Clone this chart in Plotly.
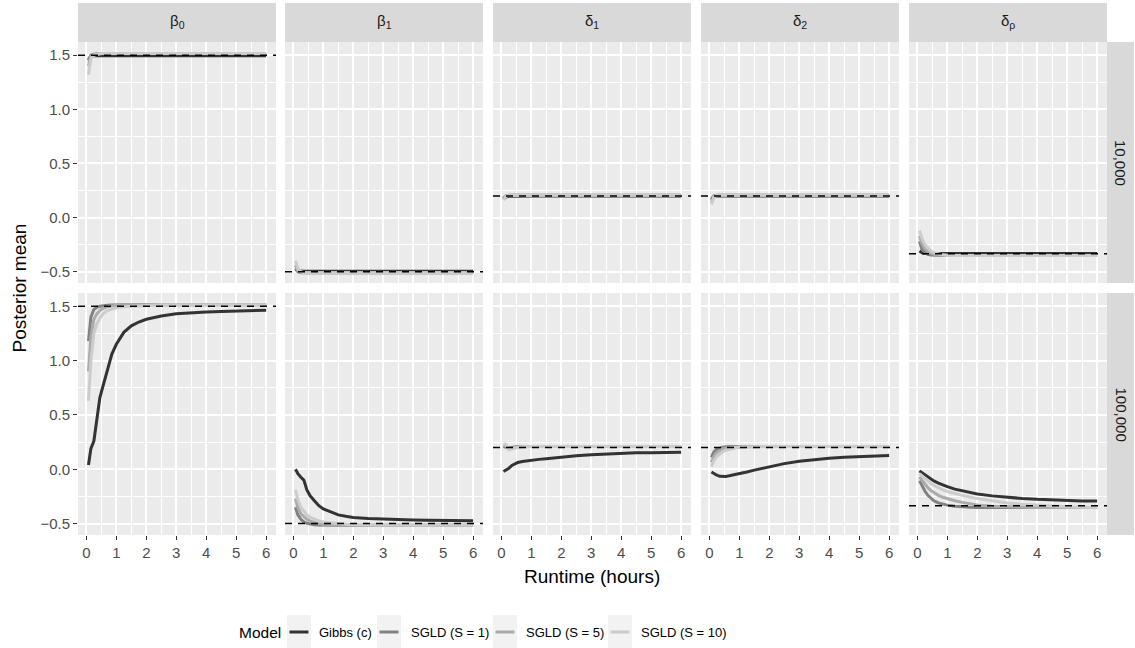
import plotly.graph_objects as go

# ---------------- data ----------------
TIME = [0.07, 0.15, 0.25, 0.35, 0.45, 0.55, 0.7, 0.85, 1.0, 1.25, 1.5, 1.75,
        2.0, 2.5, 3.0, 3.5, 4.0, 4.5, 5.0, 5.5, 6.0]

PARAMS = ["β<sub>0</sub>", "β<sub>1</sub>", "δ<sub>1</sub>", "δ<sub>2</sub>", "δ<sub>ρ</sub>"]
SIZES = ["10,000", "100,000"]
MODELS = ["Gibbs (c)", "SGLD (S = 1)", "SGLD (S = 5)", "SGLD (S = 10)"]
TRUE_VALUES = [1.5, -0.5, 0.2, 0.2, -0.335]

# ---- n = 10,000 ----
B0_10K_GIBBS = [1.46, 1.49, 1.495, 1.495, 1.495, 1.495, 1.495, 1.495, 1.495, 1.495, 1.495, 1.495, 1.495, 1.495, 1.495, 1.495, 1.495, 1.495, 1.495, 1.495, 1.495]
B0_10K_S1 = [1.45, 1.50, 1.51, 1.515, 1.515, 1.515, 1.515, 1.515, 1.515, 1.515, 1.515, 1.515, 1.515, 1.515, 1.515, 1.515, 1.515, 1.515, 1.515, 1.515, 1.515]
B0_10K_S5 = [1.40, 1.49, 1.505, 1.51, 1.515, 1.515, 1.515, 1.515, 1.515, 1.515, 1.515, 1.515, 1.515, 1.515, 1.515, 1.515, 1.515, 1.515, 1.515, 1.515, 1.515]
B0_10K_S10 = [1.32, 1.47, 1.50, 1.51, 1.515, 1.515, 1.515, 1.515, 1.515, 1.515, 1.515, 1.515, 1.515, 1.515, 1.515, 1.515, 1.515, 1.515, 1.515, 1.515, 1.515]

B1_10K_GIBBS = [-0.48, -0.49, -0.495, -0.497, -0.497, -0.497, -0.497, -0.497, -0.497, -0.497, -0.497, -0.497, -0.497, -0.497, -0.497, -0.497, -0.497, -0.497, -0.497, -0.497, -0.497]
B1_10K_S1 = [-0.47, -0.50, -0.51, -0.51, -0.51, -0.51, -0.51, -0.51, -0.51, -0.51, -0.51, -0.51, -0.51, -0.51, -0.51, -0.51, -0.51, -0.51, -0.51, -0.51, -0.51]
B1_10K_S5 = [-0.44, -0.49, -0.505, -0.51, -0.51, -0.51, -0.51, -0.51, -0.51, -0.51, -0.51, -0.51, -0.51, -0.51, -0.51, -0.51, -0.51, -0.51, -0.51, -0.51, -0.51]
B1_10K_S10 = [-0.40, -0.47, -0.50, -0.51, -0.51, -0.51, -0.51, -0.51, -0.51, -0.51, -0.51, -0.51, -0.51, -0.51, -0.51, -0.51, -0.51, -0.51, -0.51, -0.51, -0.51]

D1_10K_GIBBS = [0.17, 0.19, 0.197, 0.198, 0.198, 0.198, 0.198, 0.198, 0.198, 0.198, 0.198, 0.198, 0.198, 0.198, 0.198, 0.198, 0.198, 0.198, 0.198, 0.198, 0.198]
D1_10K_S1 = [0.18, 0.20, 0.205, 0.205, 0.205, 0.205, 0.205, 0.205, 0.205, 0.205, 0.205, 0.205, 0.205, 0.205, 0.205, 0.205, 0.205, 0.205, 0.205, 0.205, 0.205]
D1_10K_S5 = [0.17, 0.20, 0.205, 0.205, 0.205, 0.205, 0.205, 0.205, 0.205, 0.205, 0.205, 0.205, 0.205, 0.205, 0.205, 0.205, 0.205, 0.205, 0.205, 0.205, 0.205]
D1_10K_S10 = [0.16, 0.195, 0.205, 0.205, 0.205, 0.205, 0.205, 0.205, 0.205, 0.205, 0.205, 0.205, 0.205, 0.205, 0.205, 0.205, 0.205, 0.205, 0.205, 0.205, 0.205]

D2_10K_GIBBS = [0.17, 0.195, 0.2, 0.2, 0.2, 0.2, 0.2, 0.2, 0.2, 0.2, 0.2, 0.2, 0.2, 0.2, 0.2, 0.2, 0.2, 0.2, 0.2, 0.2, 0.2]
D2_10K_S1 = [0.16, 0.20, 0.205, 0.205, 0.205, 0.205, 0.205, 0.205, 0.205, 0.205, 0.205, 0.205, 0.205, 0.205, 0.205, 0.205, 0.205, 0.205, 0.205, 0.205, 0.205]
D2_10K_S5 = [0.14, 0.195, 0.205, 0.205, 0.205, 0.205, 0.205, 0.205, 0.205, 0.205, 0.205, 0.205, 0.205, 0.205, 0.205, 0.205, 0.205, 0.205, 0.205, 0.205, 0.205]
D2_10K_S10 = [0.12, 0.19, 0.205, 0.205, 0.205, 0.205, 0.205, 0.205, 0.205, 0.205, 0.205, 0.205, 0.205, 0.205, 0.205, 0.205, 0.205, 0.205, 0.205, 0.205, 0.205]

DR_10K_GIBBS = [-0.31, -0.325, -0.33, -0.332, -0.332, -0.332, -0.332, -0.332, -0.332, -0.332, -0.332, -0.332, -0.332, -0.332, -0.332, -0.332, -0.332, -0.332, -0.332, -0.332, -0.332]
DR_10K_S1 = [-0.22, -0.29, -0.325, -0.34, -0.347, -0.35, -0.352, -0.352, -0.352, -0.352, -0.352, -0.352, -0.352, -0.352, -0.352, -0.352, -0.352, -0.352, -0.352, -0.352, -0.352]
DR_10K_S5 = [-0.17, -0.24, -0.29, -0.315, -0.33, -0.34, -0.347, -0.35, -0.352, -0.352, -0.352, -0.352, -0.352, -0.352, -0.352, -0.352, -0.352, -0.352, -0.352, -0.352, -0.352]
DR_10K_S10 = [-0.12, -0.19, -0.25, -0.285, -0.31, -0.325, -0.338, -0.345, -0.35, -0.352, -0.352, -0.352, -0.352, -0.352, -0.352, -0.352, -0.352, -0.352, -0.352, -0.352, -0.352]

# ---- n = 100,000 ----
B0_100K_GIBBS = [0.04, 0.19, 0.26, 0.45, 0.66, 0.76, 0.91, 1.06, 1.15, 1.26, 1.32, 1.355, 1.38, 1.41, 1.43, 1.44, 1.447, 1.452, 1.456, 1.46, 1.463]
B0_100K_S1 = [1.18, 1.40, 1.47, 1.49, 1.50, 1.505, 1.51, 1.512, 1.515, 1.515, 1.515, 1.515, 1.515, 1.515, 1.515, 1.515, 1.515, 1.515, 1.515, 1.515, 1.515]
B0_100K_S5 = [0.90, 1.22, 1.38, 1.43, 1.46, 1.48, 1.495, 1.505, 1.51, 1.515, 1.515, 1.515, 1.515, 1.515, 1.515, 1.515, 1.515, 1.515, 1.515, 1.515, 1.515]
B0_100K_S10 = [0.63, 1.00, 1.25, 1.34, 1.39, 1.43, 1.46, 1.475, 1.485, 1.495, 1.50, 1.505, 1.51, 1.515, 1.515, 1.515, 1.515, 1.515, 1.515, 1.515, 1.515]

B1_100K_GIBBS = [0.0, -0.04, -0.074, -0.10, -0.19, -0.24, -0.29, -0.335, -0.365, -0.395, -0.42, -0.433, -0.443, -0.453, -0.46, -0.464, -0.468, -0.47, -0.472, -0.474, -0.475]
B1_100K_S1 = [-0.35, -0.42, -0.46, -0.485, -0.497, -0.505, -0.51, -0.513, -0.515, -0.515, -0.515, -0.515, -0.515, -0.515, -0.515, -0.515, -0.515, -0.515, -0.515, -0.515, -0.515]
B1_100K_S5 = [-0.27, -0.35, -0.41, -0.44, -0.46, -0.475, -0.49, -0.50, -0.505, -0.51, -0.513, -0.515, -0.515, -0.515, -0.515, -0.515, -0.515, -0.515, -0.515, -0.515, -0.515]
B1_100K_S10 = [-0.19, -0.28, -0.35, -0.39, -0.42, -0.44, -0.46, -0.475, -0.485, -0.495, -0.50, -0.505, -0.51, -0.513, -0.515, -0.515, -0.515, -0.515, -0.515, -0.515, -0.515]

D1_100K_GIBBS = [-0.02, -0.01, 0.01, 0.035, 0.052, 0.062, 0.072, 0.079, 0.085, 0.091, 0.097, 0.105, 0.113, 0.124, 0.133, 0.141, 0.148, 0.151, 0.153, 0.155, 0.157]
D1_100K_S1 = [0.21, 0.20, 0.195, 0.20, 0.205, 0.21, 0.21, 0.21, 0.21, 0.21, 0.21, 0.21, 0.21, 0.21, 0.21, 0.21, 0.21, 0.21, 0.21, 0.21, 0.21]
D1_100K_S5 = [0.22, 0.215, 0.19, 0.195, 0.20, 0.205, 0.21, 0.21, 0.21, 0.21, 0.21, 0.21, 0.21, 0.21, 0.21, 0.21, 0.21, 0.21, 0.21, 0.21, 0.21]
D1_100K_S10 = [0.235, 0.23, 0.18, 0.19, 0.197, 0.203, 0.207, 0.21, 0.21, 0.21, 0.21, 0.21, 0.21, 0.21, 0.21, 0.21, 0.21, 0.21, 0.21, 0.21, 0.21]

D2_100K_GIBBS = [-0.025, -0.04, -0.055, -0.065, -0.068, -0.066, -0.058, -0.05, -0.042, -0.025, -0.008, 0.008, 0.025, 0.052, 0.074, 0.09, 0.102, 0.110, 0.117, 0.122, 0.127]
D2_100K_S1 = [0.11, 0.16, 0.185, 0.197, 0.203, 0.207, 0.21, 0.21, 0.21, 0.21, 0.21, 0.21, 0.21, 0.21, 0.21, 0.21, 0.21, 0.21, 0.21, 0.21, 0.21]
D2_100K_S5 = [0.065, 0.12, 0.155, 0.175, 0.187, 0.195, 0.202, 0.206, 0.21, 0.21, 0.21, 0.21, 0.21, 0.21, 0.21, 0.21, 0.21, 0.21, 0.21, 0.21, 0.21]
D2_100K_S10 = [0.025, 0.08, 0.12, 0.145, 0.162, 0.175, 0.187, 0.195, 0.20, 0.205, 0.208, 0.21, 0.21, 0.21, 0.21, 0.21, 0.21, 0.21, 0.21, 0.21, 0.21]

DR_100K_GIBBS = [-0.015, -0.03, -0.05, -0.07, -0.09, -0.107, -0.127, -0.145, -0.16, -0.183, -0.198, -0.213, -0.228, -0.245, -0.259, -0.269, -0.277, -0.283, -0.288, -0.291, -0.293]
DR_100K_S1 = [-0.105, -0.15, -0.20, -0.24, -0.27, -0.29, -0.31, -0.322, -0.33, -0.34, -0.347, -0.35, -0.352, -0.352, -0.352, -0.352, -0.352, -0.352, -0.352, -0.352, -0.352]
DR_100K_S5 = [-0.07, -0.10, -0.14, -0.17, -0.195, -0.215, -0.24, -0.258, -0.272, -0.29, -0.305, -0.318, -0.328, -0.34, -0.346, -0.35, -0.352, -0.352, -0.352, -0.352, -0.352]
DR_100K_S10 = [-0.04, -0.06, -0.085, -0.11, -0.13, -0.148, -0.17, -0.19, -0.205, -0.225, -0.24, -0.256, -0.27, -0.29, -0.31, -0.322, -0.332, -0.34, -0.345, -0.349, -0.352]

PANEL_SERIES = [
    [[B0_10K_GIBBS, B0_10K_S1, B0_10K_S5, B0_10K_S10],
     [B1_10K_GIBBS, B1_10K_S1, B1_10K_S5, B1_10K_S10],
     [D1_10K_GIBBS, D1_10K_S1, D1_10K_S5, D1_10K_S10],
     [D2_10K_GIBBS, D2_10K_S1, D2_10K_S5, D2_10K_S10],
     [DR_10K_GIBBS, DR_10K_S1, DR_10K_S5, DR_10K_S10]],
    [[B0_100K_GIBBS, B0_100K_S1, B0_100K_S5, B0_100K_S10],
     [B1_100K_GIBBS, B1_100K_S1, B1_100K_S5, B1_100K_S10],
     [D1_100K_GIBBS, D1_100K_S1, D1_100K_S5, D1_100K_S10],
     [D2_100K_GIBBS, D2_100K_S1, D2_100K_S5, D2_100K_S10],
     [DR_100K_GIBBS, DR_100K_S1, DR_100K_S5, DR_100K_S10]],
]

X_TICKS = [0, 1, 2, 3, 4, 5, 6]
Y_TICKS = [-0.5, 0.0, 0.5, 1.0, 1.5]
Y_TICK_TEXT = ["\u22120.5", "0.0", "0.5", "1.0", "1.5"]

# ---------------- style / layout ----------------
COLORS = ["#333333", "#818181", "#ABABAB", "#CCCCCC"]
FONT = "Liberation Sans, Arial, Helvetica, sans-serif"
TICK_SIZE = 15
STRIP_SIZE = 15
TITLE_SIZE = 19
LEG_TEXT_SIZE = 13
LEG_TITLE_SIZE = 15.5
W, H = 1135, 648
COLS = [(78, 276), (285, 483), (493, 691), (701, 899), (909, 1107)]
ROWS = [(42, 283), (293, 535)]
STRIP_TOP = (3, 42)
STRIP_RIGHT = (1107, 1134)
X_RANGE = [-0.28, 6.33]
Y_RANGE = [-0.605, 1.622]


def fx(px):
    return px / W


def fy(py):
    return 1 - py / H


fig = go.Figure()
shapes = []
annotations = []

for r in range(2):
    for c in range(5):
        k = r * 5 + c + 1
        xs = "x" if k == 1 else f"x{k}"
        ys = "y" if k == 1 else f"y{k}"
        xname = "xaxis" if k == 1 else f"xaxis{k}"
        yname = "yaxis" if k == 1 else f"yaxis{k}"
        bottom = (r == 1)
        left = (c == 0)
        fig.update_layout(**{
            xname: dict(
                domain=[fx(COLS[c][0]), fx(COLS[c][1])], anchor=ys, range=X_RANGE,
                tickvals=X_TICKS, ticktext=[str(v) for v in X_TICKS],
                showticklabels=bottom, ticks="outside" if bottom else "",
                ticklen=4, tickwidth=1, tickcolor="#333333",
                tickfont=dict(family=FONT, size=TICK_SIZE, color="#4D4D4D"),
                showgrid=True, gridcolor="white", gridwidth=1.6, zeroline=False,
                showline=False, fixedrange=True,
                minor=dict(dtick=0.5, tick0=0.5, showgrid=True, gridcolor="white",
                           gridwidth=0.8, ticks=""),
            ),
            yname: dict(
                domain=[fy(ROWS[r][1]), fy(ROWS[r][0])], anchor=xs, range=Y_RANGE,
                tickvals=Y_TICKS, ticktext=Y_TICK_TEXT,
                showticklabels=left, ticks="outside" if left else "",
                ticklen=4, tickwidth=1, tickcolor="#333333",
                tickfont=dict(family=FONT, size=TICK_SIZE, color="#4D4D4D"),
                showgrid=True, gridcolor="white", gridwidth=1.6, zeroline=False,
                showline=False, fixedrange=True,
                minor=dict(dtick=0.25, tick0=0.25, showgrid=True, gridcolor="white",
                           gridwidth=0.8, ticks=""),
            ),
        })
        for m in range(4):
            fig.add_trace(go.Scatter(
                x=TIME, y=PANEL_SERIES[r][c][m], mode="lines", name=MODELS[m],
                line=dict(color=COLORS[m], width=3), xaxis=xs, yaxis=ys,
                showlegend=False, hoverinfo="skip",
            ))
        # reference line
        shapes.append(dict(
            type="line", xref=f"{xs} domain", yref=ys, x0=0, x1=1,
            y0=TRUE_VALUES[c], y1=TRUE_VALUES[c],
            line=dict(color="black", width=1.5, dash="7px,6px"), layer="above",
        ))

# top strips
for c in range(5):
    shapes.append(dict(type="rect", xref="paper", yref="paper",
                       x0=fx(COLS[c][0]), x1=fx(COLS[c][1]),
                       y0=fy(STRIP_TOP[1]), y1=fy(STRIP_TOP[0]),
                       fillcolor="#D9D9D9", line=dict(width=0), layer="below"))
    annotations.append(dict(text=PARAMS[c], xref="paper", yref="paper",
                            x=fx((COLS[c][0] + COLS[c][1]) / 2),
                            y=fy((STRIP_TOP[0] + STRIP_TOP[1]) / 2 - 1),
                            showarrow=False, xanchor="center", yanchor="middle",
                            font=dict(family=FONT, size=STRIP_SIZE, color="#1A1A1A")))
# right strips
for r in range(2):
    shapes.append(dict(type="rect", xref="paper", yref="paper",
                       x0=fx(STRIP_RIGHT[0]), x1=fx(STRIP_RIGHT[1]),
                       y0=fy(ROWS[r][1]), y1=fy(ROWS[r][0]),
                       fillcolor="#D9D9D9", line=dict(width=0), layer="below"))
    annotations.append(dict(text=SIZES[r], xref="paper", yref="paper",
                            x=fx((STRIP_RIGHT[0] + STRIP_RIGHT[1]) / 2),
                            y=fy((ROWS[r][0] + ROWS[r][1]) / 2),
                            showarrow=False, xanchor="center", yanchor="middle",
                            textangle=90,
                            font=dict(family=FONT, size=STRIP_SIZE, color="#1A1A1A")))

# axis titles
annotations.append(dict(text="Posterior mean", xref="paper", yref="paper",
                        x=fx(19), y=fy(288.5), showarrow=False, textangle=-90,
                        xanchor="center", yanchor="middle",
                        font=dict(family=FONT, size=TITLE_SIZE, color="black")))
annotations.append(dict(text="Runtime (hours)", xref="paper", yref="paper",
                        x=fx(592), y=fy(576), showarrow=False,
                        xanchor="center", yanchor="middle",
                        font=dict(family=FONT, size=TITLE_SIZE, color="black")))

# legend (drawn manually to match ggplot layout)
LEG_Y = 632
annotations.append(dict(text="Model", xref="paper", yref="paper", x=fx(237), y=fy(LEG_Y),
                        showarrow=False, xanchor="left", yanchor="middle",
                        font=dict(family=FONT, size=LEG_TITLE_SIZE, color="black")))
KEY_X = [287, 377, 493, 608]
LABEL_X = [317, 409, 524, 639]
for m in range(4):
    shapes.append(dict(type="rect", xref="paper", yref="paper",
                       x0=fx(KEY_X[m]), x1=fx(KEY_X[m] + 24),
                       y0=fy(LEG_Y + 17), y1=fy(LEG_Y - 17),
                       fillcolor="#F2F2F2", line=dict(width=0), layer="below"))
    shapes.append(dict(type="line", xref="paper", yref="paper",
                       x0=fx(KEY_X[m] + 2.5), x1=fx(KEY_X[m] + 21.5),
                       y0=fy(LEG_Y), y1=fy(LEG_Y),
                       line=dict(color=COLORS[m], width=3), layer="above"))
    annotations.append(dict(text=MODELS[m], xref="paper", yref="paper",
                            x=fx(LABEL_X[m]), y=fy(LEG_Y), showarrow=False,
                            xanchor="left", yanchor="middle",
                            font=dict(family=FONT, size=LEG_TEXT_SIZE, color="black")))

fig.update_layout(
    width=W, height=H, autosize=False,
    margin=dict(l=0, r=0, t=0, b=0, pad=0),
    paper_bgcolor="white", plot_bgcolor="#EBEBEB",
    showlegend=False, shapes=shapes, annotations=annotations,
    font=dict(family=FONT),
)

fig.write_html("out.html")
